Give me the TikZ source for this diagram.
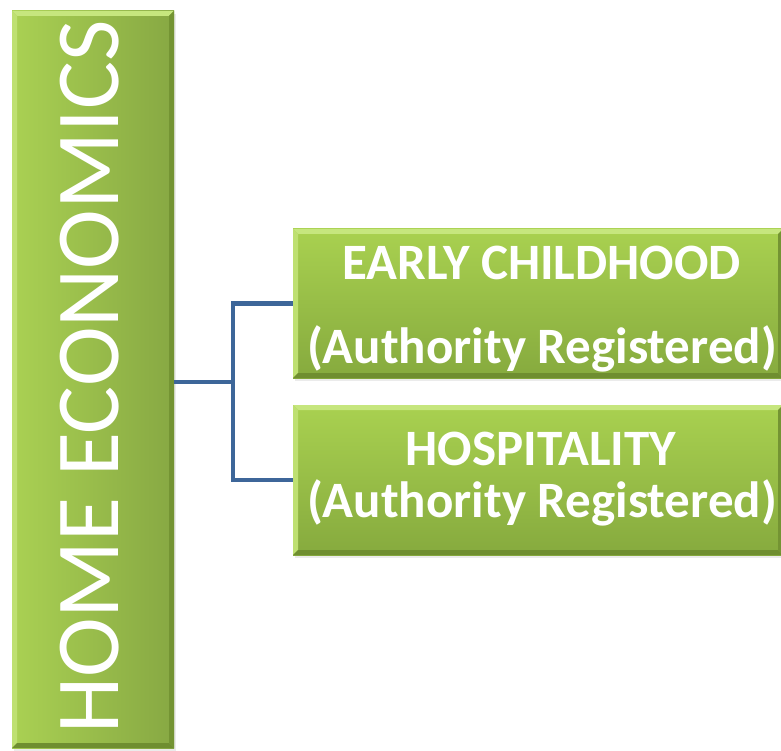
\documentclass[tikz,border=0pt]{standalone}
\usepackage{fontspec}
\setmainfont{Carlito}
\usetikzlibrary{calc}
\definecolor{barL}{HTML}{AAD153}
\definecolor{barR}{HTML}{87A843}
\definecolor{boxT}{HTML}{A9D150}
\definecolor{boxB}{HTML}{86AA3E}
\definecolor{bevLight}{HTML}{C6E67E}
\definecolor{bevDark}{HTML}{6F8E30}
\definecolor{connBlue}{HTML}{3D6699}
\tikzset{
  bevel/.style={path picture={
    \fill[bevLight] (path picture bounding box.north west) -- (path picture bounding box.north east)
       -- ($(path picture bounding box.north east)+(-5,5)$) -- ($(path picture bounding box.north west)+(5,5)$) -- cycle;
    \fill[bevLight!70!barL] (path picture bounding box.north west) -- ($(path picture bounding box.north west)+(5,5)$)
       -- ($(path picture bounding box.south west)+(5,-5)$) -- (path picture bounding box.south west) -- cycle;
    \fill[bevDark] (path picture bounding box.south west) -- ($(path picture bounding box.south west)+(5,-5)$)
       -- ($(path picture bounding box.south east)+(-5,-5)$) -- (path picture bounding box.south east) -- cycle;
    \fill[bevDark!80!boxB] (path picture bounding box.north east) -- ($(path picture bounding box.north east)+(-5,5)$)
       -- ($(path picture bounding box.south east)+(-5,-5)$) -- (path picture bounding box.south east) -- cycle;
  }},
  barbox/.style={rectangle, inner sep=0pt, left color=barL, right color=barR, bevel},
  greenbox/.style={rectangle, inner sep=0pt, top color=boxT, bottom color=boxB, bevel},
  shadowbox/.style={rectangle, inner sep=0pt, fill=black!8},
  boxtext/.style={inner sep=0pt, anchor=base, text=white, font=\bfseries\fontsize{51}{60}\selectfont},
  bartext/.style={inner sep=0pt, anchor=base west, rotate=90, text=white, font=\fontsize{90}{100}\selectfont},
  conn/.style={draw=connBlue, line width=4.5pt, line join=miter}
}
\begin{document}
\begin{tikzpicture}[x=1pt,y=-1pt]
\useasboundingbox (0,0) rectangle (781,751);
% shadows
\node[shadowbox, minimum width=162pt, minimum height=737pt] (homeshadow) at (95,382.5) {};
\node[shadowbox, minimum width=490pt, minimum height=149pt] (ecshadow) at (540,306.5) {};
\node[shadowbox, minimum width=490pt, minimum height=150pt] (hoshadow) at (540,483) {};
% boxes
\node[barbox, minimum width=162pt, minimum height=737pt] (home) at (93,379.5) {};
\node[greenbox, minimum width=490pt, minimum height=149pt] (ec) at (538,303.5) {};
\node[greenbox, minimum width=490pt, minimum height=150pt] (hosp) at (538,480) {};
% texts
\node[bartext] (hometext) at (118,734) {HOME ECONOMICS};
\node[boxtext] (ect1) at (541.5,279) {EARLY CHILDHOOD};
\node[boxtext] (ect2) at (542,363) {(Authority Registered)};
\node[boxtext] (hot1) at (541,465) {HOSPITALITY};
\node[boxtext] (hot2) at (542,517) {(Authority Registered)};
% connectors
\coordinate (j) at (233,382);
\draw[conn] (home.east |- j) -- (j);
\draw[conn] (ec.west) -| (j) |- (hosp.west);
\end{tikzpicture}
\end{document}
